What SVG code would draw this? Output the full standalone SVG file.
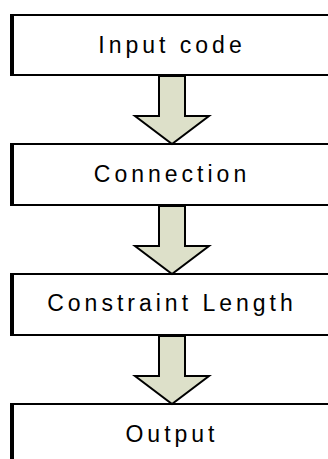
<svg xmlns="http://www.w3.org/2000/svg" width="328" height="459" viewBox="0 0 328 459">
  <style>
    .box { fill: #ffffff; stroke: #000000; stroke-width: 2; }
    .edge { stroke: #000000; stroke-width: 4; }
    .label { font-family: "Liberation Sans", Arial, sans-serif; font-size: 23px; letter-spacing: 4px; fill: #000000; text-anchor: middle; }
    .flow { fill: #dde0c9; stroke: #000000; stroke-width: 2; stroke-linejoin: miter; }
  </style>
  <defs>
    <!-- block arrow pointing down, origin at the top centre of its shaft -->
    <polygon id="down" class="flow" points="-13,0 -13,40 -37,40 0,68 37,40 13,40 13,0"/>
  </defs>
  <rect width="328" height="459" fill="#ffffff"/>

  <g id="input-code">
    <rect class="box" x="12" y="15" width="330" height="60"/>
    <line class="edge" x1="12" y1="14" x2="12" y2="76"/>
    <text class="label" x="172" y="53">Input code</text>
  </g>

  <g id="connection">
    <rect class="box" x="12" y="144" width="330" height="61"/>
    <line class="edge" x1="12" y1="143" x2="12" y2="206"/>
    <text class="label" x="172" y="182">Connection</text>
  </g>

  <g id="constraint-length">
    <rect class="box" x="12" y="274" width="330" height="61"/>
    <line class="edge" x1="12" y1="273" x2="12" y2="336"/>
    <text class="label" x="172" y="311">Constraint Length</text>
  </g>

  <g id="output">
    <rect class="box" x="12" y="404" width="330" height="70"/>
    <line class="edge" x1="12" y1="403" x2="12" y2="470"/>
    <text class="label" x="172" y="442">Output</text>
  </g>

  <g id="connectors">
    <use href="#down" x="172" y="76"/>
    <use href="#down" x="172" y="206"/>
    <use href="#down" x="172" y="336"/>
  </g>
</svg>
